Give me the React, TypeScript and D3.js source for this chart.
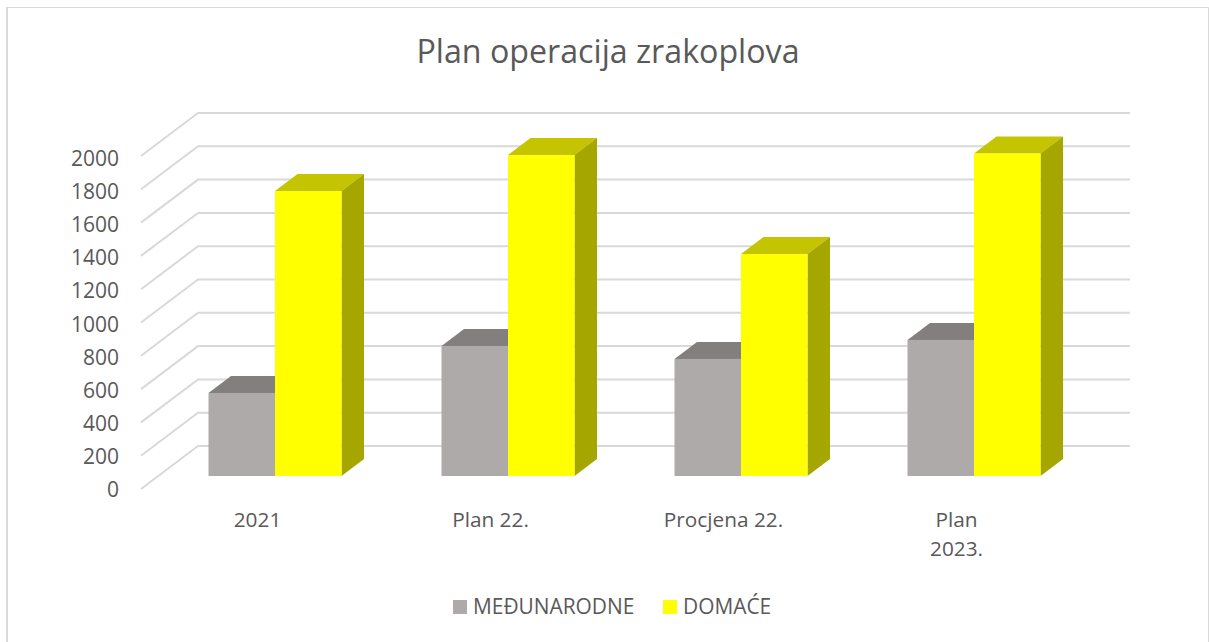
import React, { useEffect, useRef } from "react";
import * as d3 from "d3";

const categories = [["2021"], ["Plan 22."], ["Procjena 22."], ["Plan", "2023."]];
const medunarodne = [498, 780, 702, 816];
const domace = [1709, 1925, 1331, 1934];
const yTicks = [0, 200, 400, 600, 800, 1000, 1200, 1400, 1600, 1800, 2000];
const seriesNames = ["MEĐUNARODNE", "DOMAĆE"];
const seriesColors = [
  { front: "#aeaaaa", top: "#837f7f", side: "#837f7f" },
  { front: "#ffff00", top: "#c4c400", side: "#a6a600" },
];

const width = 1209;
const height = 642;
const font = "'Open Sans', sans-serif";
const textColor = "#595959";
const gridColor = "#d9d9d9";

// oblique offset of the chart floor, and of a single bar
const wallDx = 57;
const wallDy = -43;
const barDx = 22.5;
const barDy = -17;

const App = () => {
  const ref = useRef<SVGSVGElement>(null);

  useEffect(() => {
    const svg = d3.select(ref.current);
    svg.selectAll("*").remove();

    const line = d3.line();

    // chart frame, left edge is a bit heavier in the source
    svg
      .append("path")
      .attr("d", line([[7, height], [7, 7.5], [1208.5, 7.5], [1208.5, height]]))
      .attr("fill", "none")
      .attr("stroke", gridColor)
      .attr("stroke-width", 1);
    svg
      .append("path")
      .attr("d", line([[7, 7], [7, height]]))
      .attr("stroke", gridColor)
      .attr("stroke-width", 2);

    svg
      .append("text")
      .attr("x", 608)
      .attr("y", 63)
      .attr("text-anchor", "middle")
      .attr("font-family", font)
      .attr("font-size", 32.2)
      .attr("fill", textColor)
      .text("Plan operacija zrakoplova");

    // front edge of the axis
    const y = d3.scaleLinear().domain([0, 2000]).range([489, 156]);
    // tick label baselines
    const yLabel = d3.scaleLinear().domain([0, 2000]).range([497, 166]);
    // front edge of the bars sits above the axis front edge
    const yBar = d3.scaleLinear().domain([0, 2000]).range([476, 142.5]);
    const x = d3
      .scaleBand()
      .domain(categories.map((d, i) => String(i)))
      .range([158.5, 1090.5]);
    const barW = 66.5;

    yTicks.forEach(t => {
      svg
        .append("path")
        .attr(
          "d",
          line([
            [141, y(t)],
            [141 + wallDx, y(t) + wallDy],
            [1130, y(t) + wallDy],
          ])
        )
        .attr("fill", "none")
        .attr("stroke", gridColor)
        .attr("stroke-width", 2);
      svg
        .append("text")
        .attr("x", 119)
        .attr("y", yLabel(t))
        .attr("text-anchor", "end")
        .attr("font-family", font)
        .attr("font-size", 21)
        .attr("fill", textColor)
        .text(t);
    });

    const bars = svg.append("g");
    categories.forEach((c, i) => {
      const center = x(String(i)) + x.bandwidth() / 2;
      [medunarodne, domace].forEach((values, s) => {
        const x0 = center - barW + s * barW;
        const x1 = x0 + barW;
        const y0 = yBar(0);
        const y1 = yBar(values[i]);
        const col = seriesColors[s];
        const g = bars.append("g");
        g.append("path")
          .attr("d", line([[x0, y1], [x0 + barDx, y1 + barDy], [x1 + barDx, y1 + barDy], [x1, y1]]) + "Z")
          .attr("fill", col.top);
        g.append("path")
          .attr("d", line([[x1, y1], [x1 + barDx, y1 + barDy], [x1 + barDx, y0 + barDy], [x1, y0]]) + "Z")
          .attr("fill", col.side);
        g.append("rect")
          .attr("x", x0)
          .attr("y", y1)
          .attr("width", barW)
          .attr("height", y0 - y1)
          .attr("fill", col.front);
      });

      const label = svg
        .append("text")
        .attr("text-anchor", "middle")
        .attr("font-family", font)
        .attr("font-size", 20.8)
        .attr("fill", textColor);
      c.forEach((part, k) => {
        label
          .append("tspan")
          .attr("x", center - 17.5)
          .attr("y", 527 + k * 29)
          .text(part);
      });
    });

    const legendX = [453, 663];
    seriesNames.forEach((name, i) => {
      svg
        .append("rect")
        .attr("x", legendX[i])
        .attr("y", 600)
        .attr("width", 14)
        .attr("height", 14)
        .attr("fill", seriesColors[i].front);
      svg
        .append("text")
        .attr("x", legendX[i] + 20)
        .attr("y", 614)
        .attr("font-family", font)
        .attr("font-size", 20.9)
        .attr("fill", textColor)
        .text(name);
    });
  }, []);

  return (
    <svg
      ref={ref}
      width={width}
      height={height}
      style={{ position: "absolute", left: 0, top: 0, display: "block" }}
    />
  );
};

export default App;
